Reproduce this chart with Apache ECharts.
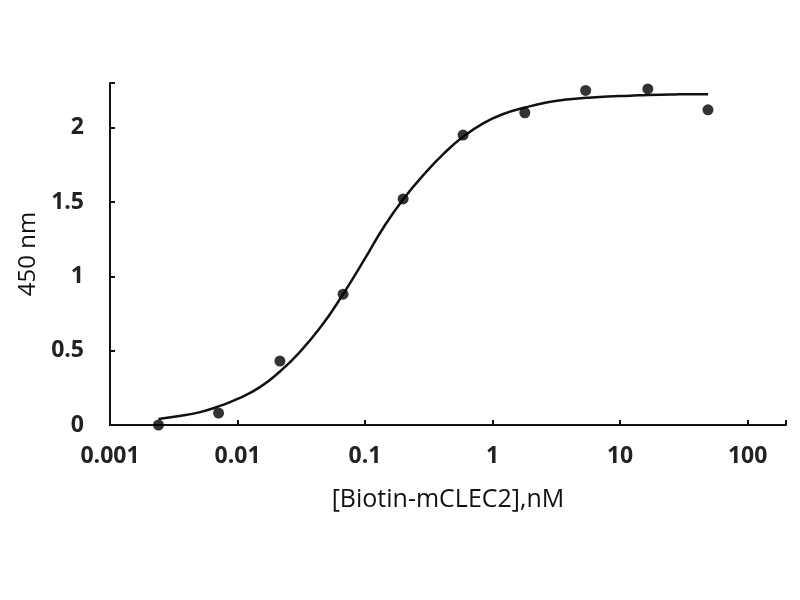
<!DOCTYPE html>
<html>
<head>
<meta charset="utf-8">
<script src="https://cdn.jsdelivr.net/npm/echarts@6/dist/echarts.min.js"></script>
<style>
  html, body { margin: 0; padding: 0; background: #fff; }
  #main { width: 800px; height: 600px; }
</style>
</head>
<body>
<div id="main"></div>
<script>
// measured points, [Biotin-mCLEC2] nM vs OD 450 nm
var conc = [0.0024, 0.0071, 0.0215, 0.0673, 0.199, 0.587, 1.79, 5.37, 16.5, 48.9];
var od450 = [0.0, 0.08, 0.43, 0.88, 1.52, 1.95, 2.10, 2.25, 2.26, 2.12];

// fitted curve
var fitX = [0.0024, 0.0035, 0.005, 0.0071, 0.01, 0.015, 0.0215, 0.03, 0.045, 0.0673,
            0.1, 0.14, 0.2, 0.3, 0.42, 0.59, 0.85, 1.2, 1.8, 2.7, 4, 5.4, 8, 12, 16.5, 25, 35, 49];
var fitY = [0.04, 0.06, 0.085, 0.125, 0.175, 0.255, 0.36, 0.48, 0.66, 0.88,
            1.12, 1.33, 1.52, 1.70, 1.83, 1.94, 2.03, 2.09, 2.135, 2.17, 2.19, 2.20, 2.21, 2.215, 2.22, 2.222, 2.225, 2.225];

var xTicks = [0.001, 0.01, 0.1, 1, 10, 100];
var yTicks = [0, 0.5, 1, 1.5, 2];

var font = 'Open Sans';

function pairs(xs, ys){
    var out = [];
    for (var i = 0; i < xs.length; i++) out.push([xs[i], ys[i]]);
    return out;
}

var myChart = echarts.init(document.getElementById('main'));
var option = {
    backgroundColor: '#fff',
    animation: false,
    grid: {
        left: 110,
        top: 83,
        right: 14,
        bottom: 175
    },
    xAxis: {
        type: 'log',
        logBase: 10,
        min: 0.001,
        max: 200,
        name: '[Biotin-mCLEC2],nM',
        nameLocation: 'middle',
        nameGap: 62,
        nameTextStyle: { fontFamily: font, fontSize: 25, color: '#111' },
        axisLine: { lineStyle: { color: '#111', width: 2 } },
        axisTick: { show: true, inside: true, length: 5, lineStyle: { color: '#111', width: 2 } },
        axisLabel: {
            customValues: xTicks,
            margin: 20,
            fontFamily: font, fontSize: 23, fontWeight: 'bold', color: '#222',
            formatter: function(v){ return String(v); }
        },
        splitLine: { show: false },
        minorTick: { show: false }
    },
    yAxis: {
        type: 'value',
        min: 0,
        max: 2.3,
        interval: 0.5,
        name: '450 nm',
        nameLocation: 'middle',
        nameGap: 70,
        nameRotate: 90,
        nameTextStyle: { fontFamily: font, fontSize: 24, color: '#111' },
        axisLine: { show: true, lineStyle: { color: '#111', width: 2 } },
        axisTick: { show: true, inside: true, length: 5, lineStyle: { color: '#111', width: 2 } },
        axisLabel: {
            customValues: yTicks,
            margin: 26,
            fontFamily: font, fontSize: 23, fontWeight: 'bold', color: '#222'
        },
        splitLine: { show: false }
    },
    series: [
        {
            type: 'line',
            data: pairs(fitX, fitY),
            smooth: true,
            symbol: 'none',
            lineStyle: { color: '#111', width: 2.5 },
            z: 2
        },
        {
            type: 'scatter',
            data: pairs(conc, od450),
            symbol: 'circle',
            symbolSize: 11,
            itemStyle: { color: '#000' },
            z: 3
        }
    ]
};
myChart.setOption(option);
</script>
</body>
</html>
